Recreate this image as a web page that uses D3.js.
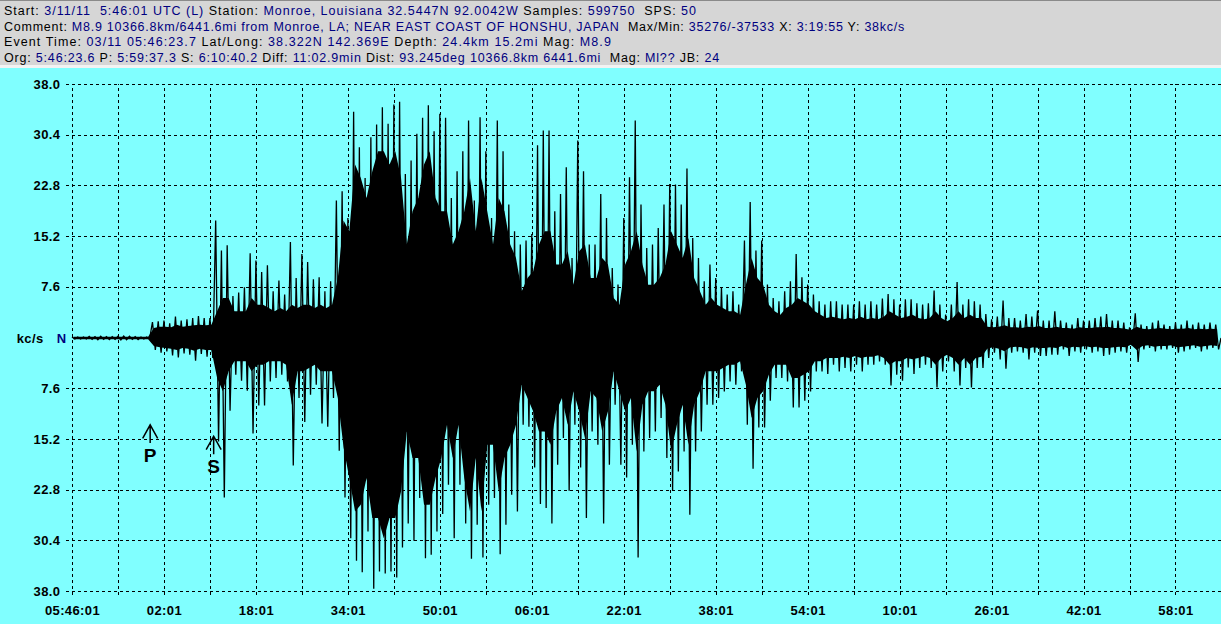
<!DOCTYPE html>
<html>
<head>
<meta charset="utf-8">
<script src="https://cdn.jsdelivr.net/npm/d3@7"></script>
<style>
  body { margin: 0; background: #80ffff; overflow: hidden; }
  .chart text { font-family: "Liberation Sans", Arial, sans-serif; }
</style>
</head>
<body>
<div class="chart"></div>
<script>
const width = 1221
const height = 624
const margin = { top: 84, right: 0, left: 72, bottom: 33 }
const innerWidth = width - margin.left - margin.right
const innerHeight = height - margin.top - margin.bottom

// record length X: 3:19:55
const totalMinutes = 199 + 55 / 60

const yTicks = [38.0, 30.4, 22.8, 15.2, 7.6, -7.6, -15.2, -22.8, -30.4, -38.0]
const xTickLabels = ["05:46:01", "02:01", "18:01", "34:01", "50:01", "06:01", "22:01",
    "38:01", "54:01", "10:01", "26:01", "42:01", "58:01"]

// phase arrivals, minutes after 05:46:01 (P 5:59:37.3, S 6:10:40.2)
const phaseNames = ["P", "S"]
const phaseMinutes = [13.6, 24.65]

// largest up / down swing in each minute of the record, kc/s
const peakHi = [
    .15, .15, .15, .25, .2, .25, .2, .2, .25, .3, .25, .2, .15, .15,
    2.4, 2.5, 2.6, 2.2, 3.2, 2.6, 2.8, 3.0, 3.3, 3.0, 3.0,
    17.6, 13.1, 13.9, 6.3, 6.8, 7.6, 12.7, 11.6, 9.9, 10.9, 7.0, 8.6, 6.5, 14.4, 9.0, 12.6, 11.4, 8.8, 9.1, 7.0, 8.5, 20.6,
    22, 18, 33.9, 28.6, 24, 30.1, 32, 34.6, 32.1, 35, 35.4, 24.6, 26.6, 30.6, 33, 34.9, 31, 33.6, 33, 21, 25, 28, 32.6, 20.6,
    33.1, 28, 18, 32.6, 28, 20, 16, 14,
    14.6, 15.6, 28.9, 31.1, 31.1, 19, 21.6, 25.6, 12, 29.6, 25, 14, 14, 21.6, 18, 10.5, 8, 18, 24.1, 32.6,
    20, 13.5, 14, 16.5, 20, 23.1, 23, 20, 25.4, 15, 12, 8.5, 11, 9, 7.6, 6.5, 7, 5, 14.6,
    20.4, 13.1, 14.6, 8, 6, 5.5, 7, 8.5, 12.6, 9.1, 8, 6.5, 5.5, 5, 5.5, 5.5, 5, 5, 5, 5.5,
    5, 5.5, 5, 5.9, 6.6, 5.8, 5, 5.8, 5.8, 5.2, 5, 5.2, 7.1, 5, 3.5, 5, 8.4, 5, 5.8, 5.5, 5,
    3.6, 2.8, 3.2, 5.6, 3, 3, 2.6, 3.6, 3.2, 4.1, 2.6, 2.6, 4, 2.6, 2.3, 2, 3, 2.6, 2.6, 3,
    3.2, 3.6, 2.6, 2.6, 2.3, 1.6, 3.7, 2, 1.8, 2.3, 2.6, 2, 1.8, 2.3, 2, 2.6, 2, 2.3, 2, 2.3, 2
]
const peakLo = [
    -.15, -.15, -.15, -.2, -.25, -.2, -.25, -.2, -.3, -.25, -.2, -.25, -.15, -.15,
    -1.8, -2.2, -2.0, -2.6, -2.9, -2.3, -2.5, -3.4, -2.4, -2.8, -3.0,
    -15.5, -23.9, -10.9, -5.5, -6.4, -7.9, -14.3, -10.1, -10.1, -6.5, -6, -5.5, -6.5, -19.1, -9, -12.6, -8.5, -7, -12.8, -13.3, -9, -16.9,
    -23.9, -30, -33.4, -35.1, -29, -37.6, -35, -35.3, -35, -35.9, -31.4, -27.8, -30.4, -24, -33, -32.5, -29, -26.4, -22, -30, -22, -27.8, -33.1, -28,
    -32.9, -25, -24, -32.4, -28, -23.5, -26, -13,
    -13.3, -19.4, -24.9, -25.5, -27.8, -19, -15, -22.9, -13, -19.4, -27, -14, -16, -27.8, -19, -10, -19, -20.9, -16, -32.9,
    -17, -15, -14, -12, -18, -22.9, -20, -17, -26.5, -17, -14, -10, -10, -9, -8, -6.5, -7, -5, -13,
    -19.6, -13.4, -13.4, -9.4, -6, -6, -6.5, -10.4, -10.4, -9.4, -8, -5, -5, -5.4, -4, -5, -4.5, -5, -4, -5,
    -4, -4, -3.5, -4, -7.1, -5.5, -6.4, -4.4, -5.4, -4.5, -4, -4.5, -7.4, -5, -3.5, -5, -7.1, -4.5, -7.4, -4.5, -4.5,
    -3, -2.2, -3.2, -4.6, -2.2, -2, -2.2, -3.2, -2.2, -2.7, -2.7, -2.5, -2.5, -1.7, -2.7, -2, -2.2, -1.7, -2.2, -2,
    -2.7, -2.5, -2.2, -2, -2.2, -1.2, -3.6, -1.7, -1.5, -2, -1.7, -1.7, -1.5, -2.2, -2, -1.7, -1.5, -2, -1.7, -1.5, -1.7
]

// solid body of the trace in each minute, kc/s
const coreHi = [
    .2, .2, .2, .2, .2, .2, .2, .2, .2, .2, .2, .2, .2, .2,
    1.5, 1.7, 1.7, 1.6, 2, 1.7, 1.8, 1.9, 2, 1.9, 2,
    4, 6, 6, 4, 4, 4, 6, 5, 5, 4.5, 4, 4.5, 4, 5, 4.5, 5, 5, 4.5, 5, 4.5, 5, 9,
    17.6, 16, 26, 24, 21, 25, 28, 28, 26, 28, 24, 14, 19, 21, 26, 28, 21, 19, 19, 14,
    16, 19, 24, 16, 24, 19, 14, 21, 19, 14, 12, 7,
    9, 10, 14, 16, 16, 11, 11, 13, 8, 13, 14, 9, 9, 12, 11, 6, 5, 11, 13, 16,
    11, 8, 8, 9, 11, 16, 14, 12, 15, 9, 7, 5, 6, 5, 4.5, 4, 4, 3.5, 8,
    12, 9, 8, 5, 4, 3.5, 4.5, 5, 6, 5.5, 5, 4, 3.5, 3, 3.2, 3, 2.8, 3, 2.8, 3.2,
    2.8, 3, 2.8, 3.2, 4, 3.5, 3, 3.2, 3.5, 3, 2.8, 3, 4, 3, 2.5, 3, 4, 3, 3.5, 3, 3,
    1.7, 1.6, 1.7, 1.9, 1.6, 1.6, 1.5, 1.7, 1.6, 1.8, 1.5, 1.5, 1.7, 1.5, 1.5, 1.4, 1.6, 1.5, 1.5, 1.6,
    1.6, 1.7, 1.5, 1.5, 1.4, 1.2, 1.7, 1.4, 1.3, 1.4, 1.5, 1.4, 1.3, 1.4, 1.4, 1.5, 1.3, 1.4, 1.3, 1.4, 1.3
]
const coreLo = [
    -.2, -.2, -.2, -.2, -.2, -.2, -.2, -.2, -.2, -.2, -.2, -.2, -.2, -.2,
    -1.2, -1.4, -1.5, -1.6, -1.8, -1.5, -1.6, -1.9, -1.6, -1.8, -1.8,
    -6, -8, -5, -3.5, -3.5, -3.5, -5, -4, -4, -3.5, -3.5, -3.5, -4, -10, -5, -5, -4.5, -4, -5, -5, -5, -9,
    -16.4, -21, -26, -25, -21, -27, -27, -30, -27, -27, -23, -14, -18, -18, -25, -25, -21, -18, -13, -18,
    -13, -21, -26, -18, -26, -16, -16, -23, -18, -16, -13, -7,
    -9, -11, -14, -14, -16, -11, -9, -13, -8, -11, -15, -8, -9, -14, -11, -5, -8, -11, -9, -17,
    -10, -8, -8, -7, -10, -17, -13, -10, -16, -10, -8, -5, -5, -5, -4.5, -4, -4, -3.5, -7,
    -12, -9, -8, -5.5, -4, -4, -4, -6, -6, -5.5, -5, -3.5, -3.5, -3, -3, -3, -2.8, -3, -2.7, -3,
    -2.8, -2.8, -2.6, -3, -4, -3.5, -3.5, -3, -3.2, -3, -2.7, -3, -4, -3, -2.5, -3, -4, -3, -4, -3, -2.8,
    -1.6, -1.4, -1.6, -2, -1.4, -1.3, -1.4, -1.6, -1.4, -1.5, -1.5, -1.4, -1.5, -1.2, -1.5, -1.3, -1.4, -1.2, -1.4, -1.3,
    -1.5, -1.5, -1.4, -1.3, -1.4, -1, -1.8, -1.2, -1.1, -1.3, -1.2, -1.2, -1.1, -1.4, -1.3, -1.2, -1.1, -1.3, -1.2, -1.1, -1.2
]

const headerLines = [
    [["Start: ", "3/11/11  5:46:01 UTC (L) "], ["Station: ", "Monroe, Louisiana 32.5447N 92.0042W "],
     ["Samples: ", "599750  "], ["SPS: ", "50"]],
    [["Comment: ", "M8.9 10366.8km/6441.6mi from Monroe, LA; NEAR EAST COAST OF HONSHU, JAPAN  "],
     ["Max/Min: ", "35276/-37533 "], ["X: ", "3:19:55 "], ["Y: ", "38kc/s"]],
    [["Event Time: ", "03/11 05:46:23.7 "], ["Lat/Long: ", "38.322N 142.369E "],
     ["Depth: ", "24.4km 15.2mi "], ["Mag: ", "M8.9"]],
    [["Org: ", "5:46:23.6 "], ["P: ", "5:59:37.3 "], ["S: ", "6:10:40.2 "], ["Diff: ", "11:02.9min "],
     ["Dist: ", "93.245deg 10366.8km 6441.6mi  "], ["Mag: ", "Ml?? "], ["JB: ", "24"]]
]
const headerWidths = [693, 901, 608, 716]

const root = d3.select(".chart")
    .append("svg")
    .attr("width", width)
    .attr("height", height)
    .style("display", "block")

root.append("rect").attr("width", width).attr("height", height).attr("fill", "#80ffff")

// header panel
root.append("rect").attr("width", width).attr("height", 66).attr("fill", "#d6d6d6")
root.append("rect").attr("width", width).attr("height", 1).attr("fill", "#8a8a8a")
root.append("rect").attr("y", 65).attr("width", width).attr("height", 3).attr("fill", "#f2f2f2")

headerLines.forEach(function(line, i) {
    const t = root.append("text")
        .attr("x", 4)
        .attr("y", 15 + i * 15.5)
        .attr("font-size", 12.5)
        .style("white-space", "pre")
    line.forEach(function(p) {
        t.append("tspan").attr("fill", "#000").text(p[0])
        t.append("tspan").attr("fill", "#000080").text(p[1])
    })
    const w = t.node().getComputedTextLength()
    const n = line.reduce((s, p) => s + p[0].length + p[1].length, 0)
    t.attr("letter-spacing", (headerWidths[i] - w) / n)
})

const svg = root.append("g")
    .attr("transform", "translate(" + margin.left + "," + margin.top + ")")

const xScale = d3.scaleLinear()
    .domain([0, totalMinutes])
    .range([0, innerWidth])

const yScale = d3.scaleLinear()
    .domain([-38, 38])
    .range([innerHeight, 0])

const gridMinutes = d3.range(0, totalMinutes, 8)

const yAxis = d3.axisLeft(yScale)
    .tickValues(yTicks)
    .tickFormat(d => Math.abs(d).toFixed(1))
    .tickSizeInner(-(innerWidth + 6))
    .tickSizeOuter(0)
    .tickPadding(5.5)

const xAxis = d3.axisBottom(xScale)
    .tickValues(gridMinutes)
    .tickFormat((d, i) => i % 2 === 0 ? xTickLabels[i / 2] : "")
    .tickSizeInner(-(innerHeight + 4))
    .tickSizeOuter(0)
    .tickPadding(11)

function styleAxis(g) {
    g.select(".domain").remove()
    g.selectAll("line")
        .attr("stroke", "#000")
        .attr("stroke-dasharray", "3,3")
        .attr("shape-rendering", "crispEdges")
    g.selectAll("text")
        .filter(function() { return this.textContent === "" })
        .remove()
    g.selectAll("text")
        .attr("fill", "#000")
        .attr("font-family", '"Liberation Sans", Arial, sans-serif')
        .attr("font-size", 13)
        .attr("font-weight", "bold")
        .attr("letter-spacing", 0.4)
}

svg.append("g")
    .attr("class", "x-axis")
    .attr("transform", "translate(0," + (innerHeight + 4) + ")")
    .call(xAxis)
    .call(styleAxis)

svg.append("g")
    .attr("class", "y-axis")
    .attr("transform", "translate(-6,0)")
    .call(yAxis)
    .call(styleAxis)

// zero label
const zeroY = yScale(0) + 0.5
svg.append("text")
    .attr("x", 16.7 - margin.left)
    .attr("y", zeroY + 4.5)
    .attr("font-size", 13)
    .attr("font-weight", "bold")
    .attr("letter-spacing", 0.4)
    .attr("fill", "#000")
    .text("kc/s")
svg.append("text")
    .attr("x", 56.7 - margin.left)
    .attr("y", zeroY + 4.5)
    .attr("font-size", 13)
    .attr("font-weight", "bold")
    .attr("fill", "#000080")
    .text("N")

// seismogram: solid body first, then the swings on top
const coreData = coreHi.map((v, i) => ({ t: i + 0.25, hi: v, lo: coreLo[i] }))
const core = d3.area()
    .x(d => xScale(d.t))
    .y0(d => yScale(d.lo) + 0.5)
    .y1(d => yScale(d.hi) + 0.5)

svg.append("path")
    .attr("d", core(coreData))
    .attr("fill", "#000")

const traceData = []
peakHi.forEach(function(v, i) {
    traceData.push({ t: i, v: v })
    traceData.push({ t: Math.min(i + 0.5, totalMinutes), v: peakLo[i] })
})
traceData.push({ t: totalMinutes, v: 0 })

const trace = d3.line()
    .x(d => xScale(d.t))
    .y(d => yScale(d.v) + 0.5)

svg.append("path")
    .attr("d", trace(traceData))
    .attr("fill", "none")
    .attr("stroke", "#000")
    .attr("stroke-width", 1.3)
    .attr("stroke-linejoin", "miter")

// P and S arrows
const markerDrop = [13.1, 14.8]
phaseNames.forEach(function(name, i) {
    const x = xScale(phaseMinutes[i])
    const y = yScale(-markerDrop[i])
    const m = svg.append("g").attr("transform", "translate(" + x + "," + y + ")")
    m.append("path")
        .attr("d", "M-7.5,13.5L0,0L7.5,13.5M0,0L0,18")
        .attr("fill", "none")
        .attr("stroke", "#000")
        .attr("stroke-width", 1.5)
    m.append("text")
        .attr("y", 37)
        .attr("text-anchor", "middle")
        .attr("font-size", 19)
        .attr("font-weight", "bold")
        .attr("fill", "#000")
        .text(name)
})
</script>
</body>
</html>
